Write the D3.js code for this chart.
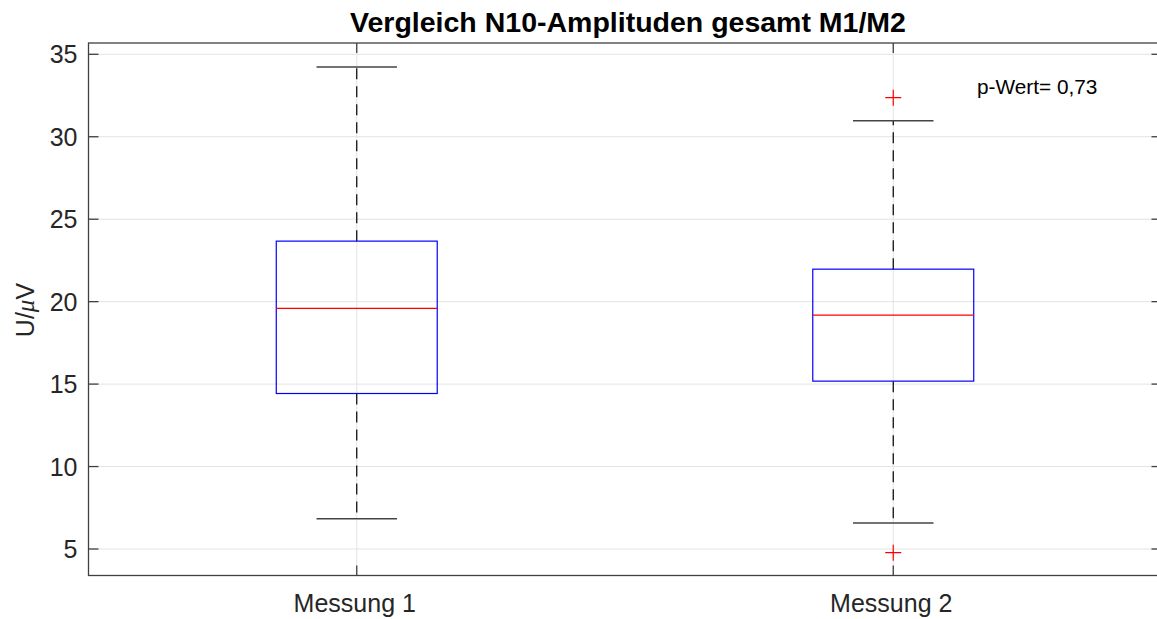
<!DOCTYPE html>
<html><head><meta charset="utf-8">
<script src="https://cdn.jsdelivr.net/npm/d3@7"></script>
<style>
body{margin:0;background:#fff;}
text{font-family:"Liberation Sans",Arial,Helvetica,sans-serif;}
</style></head>
<body>
<svg id="chart" width="1157" height="619"></svg>
<script>
// ---- data ----
const categories = ["Messung 1", "Messung 2"];
const q1 = [14.43, 15.18];
const median = [19.59, 19.18];
const q3 = [23.67, 21.97];
const whiskerLow = [6.84, 6.58];
const whiskerHigh = [34.23, 30.97];
const outliers = [[], [32.37, 4.78]];
const yTicks = [5, 10, 15, 20, 25, 30, 35];
const titleText = "Vergleich N10-Amplituden gesamt M1/M2";
const pText = "p-Wert= 0,73";
const pPos = [2.156, 32.59];

(function () {
// ---- layout ----
const svg = d3.select("#chart");
const pL = 88.5, pR = 1161.5, pT = 43, pB = 575.5;
const x = d3.scaleLinear().domain([0.5, 2.5]).range([pL, pR]);
const y = d3.scaleLinear().domain([3.393, 35.685]).range([pB, pT]);
const boxW = 0.3, capW = 0.15;
const gridC = "#e3e3e3", axisC = "#404040", textC = "#262626";

// grid
const g = svg.append("g");
g.selectAll(".hg").data(yTicks).enter().append("line")
  .attr("x1", pL).attr("x2", pR)
  .attr("y1", d => y(d)).attr("y2", d => y(d))
  .attr("stroke", gridC).attr("stroke-width", 1);
g.selectAll(".vg").data(categories).enter().append("line")
  .attr("x1", (d,i) => x(i+1)).attr("x2", (d,i) => x(i+1))
  .attr("y1", pT).attr("y2", pB)
  .attr("stroke", gridC).attr("stroke-width", 1);

// boxes
const bx = svg.append("g");
categories.forEach((c, i) => {
  const cx = x(i+1);
  bx.append("line").attr("x1", cx).attr("x2", cx)
    .attr("y1", y(q3[i])).attr("y2", y(whiskerHigh[i]))
    .attr("stroke", "#000").attr("stroke-width", 1.2).attr("stroke-dasharray", "11,7");
  bx.append("line").attr("x1", cx).attr("x2", cx)
    .attr("y1", y(q1[i])).attr("y2", y(whiskerLow[i]))
    .attr("stroke", "#000").attr("stroke-width", 1.2).attr("stroke-dasharray", "11,7");
  [whiskerHigh[i], whiskerLow[i]].forEach(v => {
    bx.append("line").attr("x1", x(i+1-capW/2)).attr("x2", x(i+1+capW/2))
      .attr("y1", y(v)).attr("y2", y(v))
      .attr("stroke", "#444").attr("stroke-width", 1.5);
  });
  bx.append("rect").attr("x", x(i+1-boxW/2)).attr("y", y(q3[i]))
    .attr("width", x(i+1+boxW/2) - x(i+1-boxW/2)).attr("height", y(q1[i]) - y(q3[i]))
    .attr("fill", "none").attr("stroke", "#0000ff").attr("stroke-width", 1.2);
  bx.append("line").attr("x1", x(i+1-boxW/2)).attr("x2", x(i+1+boxW/2))
    .attr("y1", y(median[i])).attr("y2", y(median[i]))
    .attr("stroke", "#ff0000").attr("stroke-width", 1.2);
  outliers[i].forEach(v => {
    const py = y(v);
    bx.append("path").attr("d", `M${cx-8},${py}H${cx+8}M${cx},${py-8}V${py+8}`)
      .attr("stroke", "#ff0000").attr("stroke-width", 1.2).attr("fill", "none");
  });
});

// axes box
const ax = svg.append("g");
ax.append("rect").attr("x", pL).attr("y", pT).attr("width", pR-pL).attr("height", pB-pT)
  .attr("fill", "none").attr("stroke", axisC).attr("stroke-width", 1.3);
yTicks.forEach(t => {
  ax.append("line").attr("x1", pL).attr("x2", pL+10).attr("y1", y(t)).attr("y2", y(t)).attr("stroke", axisC).attr("stroke-width", 1.3);
  ax.append("line").attr("x1", pR).attr("x2", pR-10).attr("y1", y(t)).attr("y2", y(t)).attr("stroke", axisC).attr("stroke-width", 1.3);
  ax.append("text").attr("x", pL-11).attr("y", y(t)).attr("dy", "0.36em")
    .attr("text-anchor", "end").attr("font-size", 25).attr("fill", textC).text(t);
});
categories.forEach((c, i) => {
  ax.append("line").attr("x1", x(i+1)).attr("x2", x(i+1)).attr("y1", pB).attr("y2", pB-10).attr("stroke", axisC).attr("stroke-width", 1.3);
  ax.append("line").attr("x1", x(i+1)).attr("x2", x(i+1)).attr("y1", pT).attr("y2", pT+10).attr("stroke", axisC).attr("stroke-width", 1.3);
  ax.append("text").attr("x", x(i+1) - 2).attr("y", 612)
    .attr("text-anchor", "middle").attr("font-size", 25).attr("fill", textC).text(c);
});

// y label
const yl = svg.append("text").attr("transform", "translate(34,310) rotate(-90)")
  .attr("text-anchor", "middle").attr("font-size", 25).attr("fill", textC);
yl.append("tspan").text("U/");
yl.append("tspan").attr("font-style", "italic").attr("font-family", "'Liberation Serif',serif").text("\u03BC");
yl.append("tspan").text("V");

// title
svg.append("text").attr("x", 628).attr("y", 32)
  .attr("text-anchor", "middle").attr("font-size", 28.5).attr("font-weight", "bold").attr("fill", "#000")
  .text(titleText);

// p value
svg.append("text").attr("x", x(pPos[0])).attr("y", y(pPos[1]))
  .attr("font-size", 20.8).attr("fill", "#000").text(pText);
})();
</script>
</body></html>
